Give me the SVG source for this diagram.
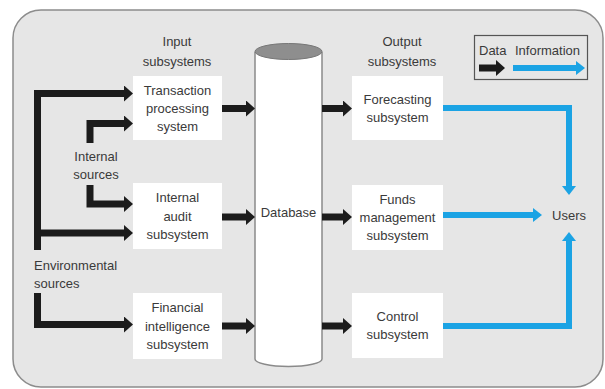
<svg xmlns="http://www.w3.org/2000/svg" width="605" height="389" viewBox="0 0 605 389">
  <style>
    text { font-family: "Liberation Sans", Arial, sans-serif; font-size: 13px; fill: #3a3a3a; }
    .c { text-anchor: middle; }
    .box { fill: #ffffff; }
    .data { fill: none; stroke: #1c1c1c; stroke-width: 7; stroke-linejoin: miter; marker-end: url(#headData); }
    .info { fill: none; stroke: #1ba3e4; stroke-width: 6; stroke-linejoin: miter; marker-end: url(#headInfo); }
  </style>
  <defs>
    <marker id="headData" markerUnits="userSpaceOnUse" viewBox="0 0 9 16" refX="1" refY="8" markerWidth="9" markerHeight="16" orient="auto">
      <path d="M0,0 L9,8 L0,16 Z" fill="#1c1c1c"/>
    </marker>
    <marker id="headInfo" markerUnits="userSpaceOnUse" viewBox="0 0 9 14" refX="1" refY="7" markerWidth="9" markerHeight="14" orient="auto">
      <path d="M0,0 L9,7 L0,14 Z" fill="#1ba3e4"/>
    </marker>
  </defs>

  <!-- panel -->
  <rect x="13" y="10" width="590" height="377" rx="28" ry="28" fill="#e6e6e6" stroke="#8c8c8c" stroke-width="1.5"/>

  <!-- column headings -->
  <text class="c" x="177" y="46">Input</text>
  <text class="c" x="177" y="66">subsystems</text>
  <text class="c" x="402" y="46">Output</text>
  <text class="c" x="402" y="66">subsystems</text>

  <!-- source labels -->
  <g id="internal-sources">
    <text class="c" x="96" y="161">Internal</text>
    <text class="c" x="96" y="179">sources</text>
  </g>
  <g id="environmental-sources">
    <text x="34" y="270">Environmental</text>
    <text x="34" y="288">sources</text>
  </g>

  <!-- legend -->
  <g id="legend">
    <rect x="474.5" y="35.5" width="113" height="44" fill="none" stroke="#555" stroke-width="1.2"/>
    <text x="479" y="55">Data</text>
    <text x="515" y="55">Information</text>
    <path d="M479,68 H497" fill="none" stroke="#1c1c1c" stroke-width="7" marker-end="url(#headData)"/>
    <path d="M513,68 H577" fill="none" stroke="#1ba3e4" stroke-width="6" marker-end="url(#headInfo)"/>
  </g>

  <!-- input subsystems -->
  <g id="transaction">
    <rect class="box" x="133" y="76" width="89" height="64"/>
    <text class="c" x="177.5" y="94.5">Transaction</text>
    <text class="c" x="177.5" y="112.5">processing</text>
    <text class="c" x="177.5" y="130.5">system</text>
  </g>
  <g id="internal-audit">
    <rect class="box" x="133" y="183" width="89" height="66"/>
    <text class="c" x="177.5" y="202">Internal</text>
    <text class="c" x="177.5" y="220.5">audit</text>
    <text class="c" x="177.5" y="239">subsystem</text>
  </g>
  <g id="financial-intelligence">
    <rect class="box" x="133" y="293" width="89" height="66"/>
    <text class="c" x="177.5" y="312">Financial</text>
    <text class="c" x="177.5" y="330.5">intelligence</text>
    <text class="c" x="177.5" y="349">subsystem</text>
  </g>

  <!-- database cylinder -->
  <g id="database">
    <path d="M255,52 V359 A33.5,7.5 0 0 0 322,359 V52" fill="#ffffff" stroke="#8a8a8a" stroke-width="1.5"/>
    <ellipse cx="288.5" cy="51.5" rx="33.5" ry="8" fill="#8e8e8e" stroke="#777" stroke-width="1"/>
    <text class="c" x="288.5" y="217">Database</text>
  </g>

  <!-- output subsystems -->
  <g id="forecasting">
    <rect class="box" x="352" y="76" width="91" height="64"/>
    <text class="c" x="397.5" y="103.5">Forecasting</text>
    <text class="c" x="397.5" y="121.5">subsystem</text>
  </g>
  <g id="funds-management">
    <rect class="box" x="352" y="185" width="91" height="65"/>
    <text class="c" x="397.5" y="203.5">Funds</text>
    <text class="c" x="397.5" y="221.5">management</text>
    <text class="c" x="397.5" y="239.5">subsystem</text>
  </g>
  <g id="control">
    <rect class="box" x="352" y="293" width="91" height="65"/>
    <text class="c" x="397.5" y="321">Control</text>
    <text class="c" x="397.5" y="339">subsystem</text>
  </g>

  <g id="users">
    <text class="c" x="569" y="220">Users</text>
  </g>

  <!-- connectors -->
  <g id="connectors">
    <!-- sources to input subsystems -->
    <path class="data" d="M37.5,250 V93.5 H125"/>
    <path class="data" d="M37.5,233 H125"/>
    <path class="data" d="M90,143 V123.5 H125"/>
    <path class="data" d="M90,185 V204 H125"/>
    <path class="data" d="M37.5,293 V324.5 H125"/>
    <!-- input subsystems to database -->
    <path class="data" d="M222,108.5 H247"/>
    <path class="data" d="M222,217 H247"/>
    <path class="data" d="M222,326 H247"/>
    <!-- database to output subsystems -->
    <path class="data" d="M322,108.5 H344"/>
    <path class="data" d="M322,217 H344"/>
    <path class="data" d="M322,326 H344"/>
    <!-- output subsystems to users -->
    <path class="info" d="M443,108 H569 V187"/>
    <path class="info" d="M443,215 H534"/>
    <path class="info" d="M443,326 H569 V240"/>
  </g>
</svg>
